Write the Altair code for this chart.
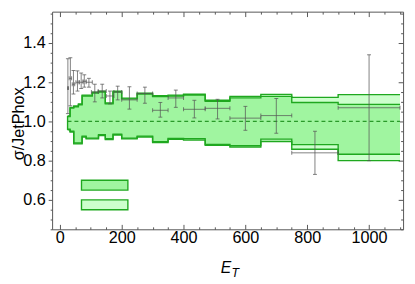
import altair as alt
import pandas as pd

# ---- band data (bin edges, per-bin bounds) ----
edges = [25, 33, 45, 60, 72, 85, 105, 125, 147, 172, 200, 250, 300, 350, 400, 470, 550, 650, 750, 900, 1100]
inner_hi = [1.025, 1.068, 1.075, 1.085, 1.13, 1.13, 1.145, 1.15, 1.09, 1.15, 1.115, 1.14, 1.127, 1.13, 1.135, 1.103, 1.12, 1.128, 1.097, 1.087]
inner_lo = [0.96, 0.95, 0.89, 0.89, 0.925, 0.915, 0.915, 0.932, 0.912, 0.935, 0.915, 0.925, 0.897, 0.913, 0.912, 0.883, 0.877, 0.91, 0.882, 0.833]
outer_hi = [1.028, 1.072, 1.079, 1.089, 1.134, 1.134, 1.149, 1.154, 1.094, 1.154, 1.119, 1.144, 1.131, 1.134, 1.139, 1.108, 1.128, 1.138, 1.123, 1.137]
outer_lo = [0.957, 0.946, 0.886, 0.886, 0.921, 0.911, 0.911, 0.928, 0.908, 0.931, 0.911, 0.921, 0.893, 0.909, 0.905, 0.878, 0.870, 0.898, 0.858, 0.800]

# ---- data points ----
pt_et = [26, 34, 44, 57, 69, 79, 94, 113, 137, 162, 187, 225, 275, 325, 375, 435, 510, 600, 700, 825, 1000]
pt_val = [1.17, 1.22, 1.19, 1.20, 1.20, 1.205, 1.20, 1.15, 1.155, 1.13, 1.15, 1.11, 1.143, 1.057, 1.12, 1.062, 1.067, 1.017, 1.03, 0.84, 1.07]
pt_lo = [1.04, 1.08, 1.14, 1.155, 1.168, 1.175, 1.175, 1.10, 1.12, 1.09, 1.11, 1.063, 1.093, 1.022, 1.072, 1.018, 1.013, 0.955, 0.94, 0.73, 0.80]
pt_hi = [1.32, 1.325, 1.26, 1.258, 1.247, 1.238, 1.22, 1.19, 1.19, 1.155, 1.18, 1.177, 1.175, 1.097, 1.16, 1.108, 1.113, 1.077, 1.117, 0.95, 1.34]
pt_xlo = [25, 30, 40, 52, 63, 75, 85, 102, 124, 150, 175, 200, 250, 300, 350, 400, 470, 550, 650, 750, 900]
pt_xhi = [28, 38, 48, 62, 75, 85, 105, 124, 150, 175, 200, 250, 300, 350, 400, 470, 550, 650, 750, 900, 1100]

# ---- legend boxes ----
leg_x1 = [70, 70]
leg_x2 = [220, 220]
leg_y1 = [0.65, 0.55]
leg_y2 = [0.70, 0.60]
leg_fill = ["#a0f5a0", "#ccffcc"]

x_ticks = list(range(0, 1101, 50))
y_ticks = [round(0.45 + 0.05 * i, 2) for i in range(23)]
y_title = "σ/JetPhox"

XDOM = [-25, 1110]
YDOM = [0.45, 1.56]
EDGE = "#1fa81f"
FONT = "Liberation Sans"
LFS = 16.5

band = pd.DataFrame({
    "x": edges,
    "ihi": inner_hi + [inner_hi[-1]],
    "ilo": inner_lo + [inner_lo[-1]],
    "ohi": outer_hi + [outer_hi[-1]],
    "olo": outer_lo + [outer_lo[-1]],
})
pts = pd.DataFrame({"et": pt_et, "val": pt_val, "lo": pt_lo, "hi": pt_hi, "xlo": pt_xlo, "xhi": pt_xhi})
leg = pd.DataFrame({"x1": leg_x1, "x2": leg_x2, "y1": leg_y1, "y2": leg_y2, "fill": leg_fill})
unit = pd.DataFrame({"x": [25, 1100], "y": [1.0, 1.0]})

xs = alt.Scale(domain=XDOM, nice=False, zero=False)
ys = alt.Scale(domain=YDOM, nice=False, zero=False)


def X(f, **kw):
    return alt.X(f, type="quantitative", scale=xs, axis=None, **kw)


def Y(f, **kw):
    return alt.Y(f, type="quantitative", scale=ys, axis=None, **kw)


base_b = alt.Chart(band)
outer_area = base_b.mark_area(interpolate="step-after", color="#ccffcc", opacity=1).encode(
    x=X("x"), y=Y("olo"), y2="ohi")
outer_top = base_b.mark_line(interpolate="step-after", color=EDGE, strokeWidth=1.4).encode(x=X("x"), y=Y("ohi"))
outer_bot = base_b.mark_line(interpolate="step-after", color=EDGE, strokeWidth=1.4).encode(x=X("x"), y=Y("olo"))
inner_area = base_b.mark_area(interpolate="step-after", color="#a0f5a0", opacity=1).encode(
    x=X("x"), y=Y("ilo"), y2="ihi")
inner_top = base_b.mark_line(interpolate="step-after", color=EDGE, strokeWidth=1.4).encode(x=X("x"), y=Y("ihi"))
inner_bot = base_b.mark_line(interpolate="step-after", color=EDGE, strokeWidth=1.4).encode(x=X("x"), y=Y("ilo"))
left_edge = alt.Chart(band.head(1)).mark_rule(color=EDGE, strokeWidth=1.4).encode(x=X("x"), y=Y("olo"), y2="ohi")

dash = alt.Chart(unit).mark_line(color="#2a9a2a", strokeDash=[4, 3], strokeWidth=1.2).encode(
    x=alt.X("x:Q", scale=xs, axis=alt.Axis(
        orient="bottom", values=x_ticks, title=None, grid=False, format="d",
        labelExpr="datum.value % 200 === 0 ? datum.label : ''", labelOverlap=False,
        labelFont=FONT, labelFontSize=LFS, labelColor="#000", labelPadding=5,
        tickSize={"expr": "datum.value % 200 === 0 ? -5 : -2.5"},
        tickColor="#555", domainColor="#555", labelFlush=False)),
    y=alt.Y("y:Q", scale=ys, axis=alt.Axis(
        orient="left", values=y_ticks, title=y_title,
        titleFont=FONT, titleFontSize=16.5, titleFontWeight="normal", titleColor="#000",
        titleX=-29, titleY=114, titleAlign="center", titleBaseline="alphabetic", titleAngle=270,
        grid=False,
        labelExpr="abs(datum.value*5 - round(datum.value*5)) < 0.001 ? format(datum.value, '.1f') : ''",
        labelOverlap=False, labelFont=FONT, labelFontSize=LFS, labelColor="#000", labelPadding=3,
        tickSize={"expr": "abs(datum.value*5 - round(datum.value*5)) < 0.001 ? 4 : 2"},
        tickColor="#555", domainColor="#555", labelFlush=False)),
)

frame = alt.Chart(unit).mark_point(opacity=0).encode(
    x=alt.X("x:Q", scale=xs, axis=alt.Axis(
        orient="top", values=x_ticks, title=None, grid=False, labels=False,
        tickSize={"expr": "datum.value % 200 === 0 ? -5 : -2.5"},
        tickColor="#555", domainColor="#555")),
    y=alt.Y("y:Q", scale=ys, axis=alt.Axis(
        orient="right", values=y_ticks, title=None, grid=False, labels=False,
        tickSize={"expr": "abs(datum.value*5 - round(datum.value*5)) < 0.001 ? -5 : -2.5"},
        tickColor="#555", domainColor="#555")),
)

base_p = alt.Chart(pts)
ebar_col = "#555555"
vbar = base_p.mark_rule(color=ebar_col, opacity=0.75, strokeWidth=1).encode(x=X("et"), y=Y("lo"), y2="hi")
hbar = base_p.mark_rule(color=ebar_col, opacity=0.75, strokeWidth=1).encode(x=X("xlo"), x2="xhi", y=Y("val"))
cap_lo = base_p.mark_tick(color=ebar_col, opacity=0.75, orient="horizontal", size=4, thickness=1).encode(x=X("et"), y=Y("lo"))
cap_hi = base_p.mark_tick(color=ebar_col, opacity=0.75, orient="horizontal", size=4, thickness=1).encode(x=X("et"), y=Y("hi"))
cap_l = base_p.mark_tick(color=ebar_col, opacity=0.75, orient="vertical", size=4, thickness=1).encode(x=X("xlo"), y=Y("val"))
cap_r = base_p.mark_tick(color=ebar_col, opacity=0.75, orient="vertical", size=4, thickness=1).encode(x=X("xhi"), y=Y("val"))

legend = alt.Chart(leg).mark_rect(stroke=EDGE, strokeWidth=1.4).encode(
    x=X("x1"), x2="x2", y=Y("y1"), y2="y2",
    fill=alt.Fill("fill:N", scale=None))

t_e = alt.Chart(pd.DataFrame({"t": ["E"]})).mark_text(
    font=FONT, fontSize=16, fontStyle="italic", align="left", baseline="alphabetic", color="#000").encode(
    text="t:N", x=alt.value(172), y=alt.value(267))
t_t = alt.Chart(pd.DataFrame({"t": ["T"]})).mark_text(
    font=FONT, fontSize=12.5, fontStyle="italic", align="left", baseline="alphabetic", color="#000").encode(
    text="t:N", x=alt.value(183), y=alt.value(270.5))

chart = alt.layer(
    outer_area, inner_area, outer_top, outer_bot, inner_top, inner_bot, left_edge,
    dash, frame, vbar, hbar, cap_lo, cap_hi, cap_l, cap_r, legend,
    t_e, t_t,
).resolve_axis(x="independent", y="independent").properties(
    width=358, height=222,
    autosize=alt.AutoSizeParams(type="none"),
    padding={"left": 45, "top": 1, "right": 4, "bottom": 50},
).configure_view(stroke=None)

chart.save("out.html", embed_options={"renderer": "svg", "actions": False})
